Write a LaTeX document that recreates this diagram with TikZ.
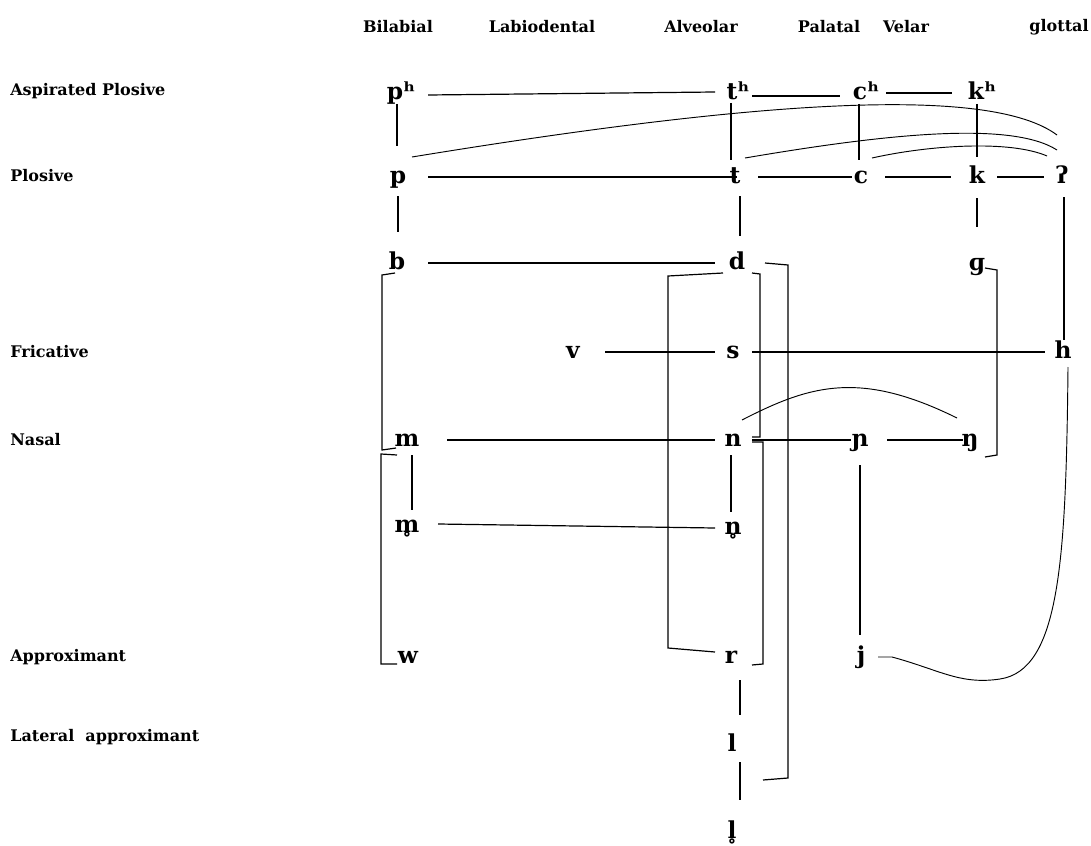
\documentclass[tikz,border=0pt]{standalone}
\usepackage{fontspec}
\setmainfont{DejaVu Serif}
\usetikzlibrary{calc}
\begin{document}
\begin{tikzpicture}[x=0.75pt,y=-0.75pt,
  hdr/.style={font=\bfseries\fontsize{12}{14}\selectfont, inner sep=0},
  lbl/.style={font=\bfseries\fontsize{12}{14}\selectfont, anchor=west, inner sep=0},
  ipa/.style={font=\bfseries\fontsize{17.5}{20}\selectfont, inner sep=0, text height=12pt, text depth=3pt},
  ln/.style={line width=0.9pt},
  cv/.style={line width=0.7pt},
  br/.style={line width=0.9pt}]
\useasboundingbox (0,0) rectangle (1091,845);

% column headers
\node[hdr] (hB) at (398,27) {Bilabial};
\node[hdr] (hL) at (542,27) {Labiodental};
\node[hdr] (hA) at (701,27) {Alveolar};
\node[hdr] (hP) at (829,27) {Palatal};
\node[hdr] (hV) at (906,27) {Velar};
\node[hdr] (hG) at (1059,27) {glottal};

% row labels
\node[lbl] (rAP) at (10,91) {Aspirated Plosive};
\node[lbl] (rP) at (10,176) {Plosive};
\node[lbl] (rF) at (10,352) {Fricative};
\node[lbl] (rN) at (10,440) {Nasal};
\node[lbl] (rA) at (10,657) {Approximant};
\node[lbl] (rLA) at (10,737) {Lateral\ \ approximant};

% IPA symbols
\node[ipa] (ph) at (401,94) {pʰ};
\node[ipa] (th) at (738,94) {tʰ};
\node[ipa] (ch) at (866,94) {cʰ};
\node[ipa] (kh) at (982,94) {kʰ};
\node[ipa] (p) at (398,177) {p};
\node[ipa] (t) at (735,177) {t};
\node[ipa] (c) at (861,177) {c};
\node[ipa] (k) at (977,177) {k};
\node[ipa] (gs) at (1062,177) {ʔ};
\node[ipa] (b) at (397,263) {b};
\node[ipa] (d) at (737,263) {d};
\node[ipa] (g) at (977,264) {ɡ};
\node[ipa] (v) at (573,352) {v};
\node[ipa] (s) at (733,352) {s};
\node[ipa] (h) at (1063,352) {h};
\node[ipa] (m) at (407,440) {m};
\node[ipa] (n) at (733,440) {n};
\node[ipa] (nj) at (860,440) {ɲ};
\node[ipa] (ng) at (970,440) {ŋ};
\node[ipa] (mr) at (407,526) {m̥};
\node[ipa] (nr) at (733,528) {n̥};
\node[ipa] (w) at (408,657) {w};
\node[ipa] (r) at (731,657) {r};
\node[ipa] (j) at (861,657) {j};
\node[ipa] (l) at (732,745) {l};
\node[ipa] (lr) at (732,832) {l̥};

% horizontal connectors
\draw[ln] ($(ph)+(27,1)$) -- ($(th)+(-23,-2)$);
\draw[ln] ($(th)+(14,2)$) -- ($(ch)+(-26,2)$);
\draw[ln] ($(ch)+(20,-1)$) -- ($(kh)+(-30,-1)$);
\draw[ln] ($(p)+(30,0)$) -- ($(t)+(2,0)$);
\draw[ln] ($(t)+(23,0)$) -- ($(c)+(-9,0)$);
\draw[ln] ($(c)+(24,0)$) -- ($(k)+(-26,0)$);
\draw[ln] ($(k)+(20,0)$) -- ($(gs)+(-18,0)$);
\draw[ln] ($(b)+(31,0)$) -- ($(d)+(-22,0)$);
\draw[ln] ($(v)+(32,0)$) -- ($(s)+(-18,0)$);
\draw[ln] ($(s)+(19,0)$) -- ($(h)+(-18,0)$);
\draw[ln] ($(m)+(40,0)$) -- ($(n)+(-18,0)$);
\draw[ln] ($(n)+(19,0)$) -- ($(nj)+(-9,0)$);
\draw[ln] ($(nj)+(27,0)$) -- ($(ng)+(-7,0)$);
\draw[ln] ($(mr)+(31,-2)$) -- ($(nr)+(-18,0)$);

% vertical connectors
\draw[ln] ($(ph)+(-4,10)$) -- ($(p)+(-1,-31)$);
\draw[ln] ($(th)+(-7,9)$) -- ($(t)+(-4,-17)$);
\draw[ln] ($(ch)+(-7,10)$) -- ($(c)+(-2,-17)$);
\draw[ln] ($(kh)+(-5,10)$) -- ($(k)+(0,-20)$);
\draw[ln] ($(p)+(0,19)$) -- ($(b)+(1,-31)$);
\draw[ln] ($(t)+(5,19)$) -- ($(d)+(3,-27)$);
\draw[ln] ($(k)+(0,21)$) -- ($(g)+(0,-37)$);
\draw[ln] ($(gs)+(2,20)$) -- ($(h)+(1,-12)$);
\draw[ln] ($(m)+(5,15)$) -- ($(mr)+(5,-16)$);
\draw[ln] ($(n)+(-2,15)$) -- ($(nr)+(-2,-16)$);
\draw[ln] ($(nj)+(0,25)$) -- ($(j)+(-1,-22)$);
\draw[ln] ($(r)+(9,23)$) -- ($(l)+(8,-30)$);
\draw[ln] ($(l)+(8,17)$) -- ($(lr)+(8,-32)$);

% curved connectors
\draw[cv] ($(p)+(14,-20)$) .. controls (760,100) and (990,85) .. ($(gs)+(-5,-42)$);
\draw[cv] ($(t)+(10,-19)$) .. controls (880,135) and (1010,120) .. ($(gs)+(-5,-27)$);
\draw[cv] ($(c)+(11,-19)$) .. controls (930,145) and (1010,140) .. ($(gs)+(-15,-21)$);
\draw[cv] ($(n)+(9,-20)$) .. controls (810,385) and (860,370) .. ($(ng)+(-13,-22)$);
\draw[cv] ($(j)+(17,0)$) -- ++(14,0) .. controls (940,670) and (960,685) .. (1000,679)
   .. controls (1060,670) and (1066,560) .. ($(h)+(5,15)$);

% brackets
\draw[br] (765,263) -- (788,265) -- (788,778) -- (763,780);
\draw[br] (752,273) -- (760,274) -- (760,437) -- (752,437);
\draw[br] (752,442) -- (763,442) -- (763,664) -- (752,665);
\draw[br] (723,273) -- (668,276) -- (668,648) -- (715,652);
\draw[br] (395,273) -- (382,275) -- (382,450) -- (396,448);
\draw[br] (397,455) -- (381,454) -- (381,664) -- (397,664);
\draw[br] (985,268) -- (997,270) -- (997,455) -- (985,457);
\end{tikzpicture}
\end{document}
